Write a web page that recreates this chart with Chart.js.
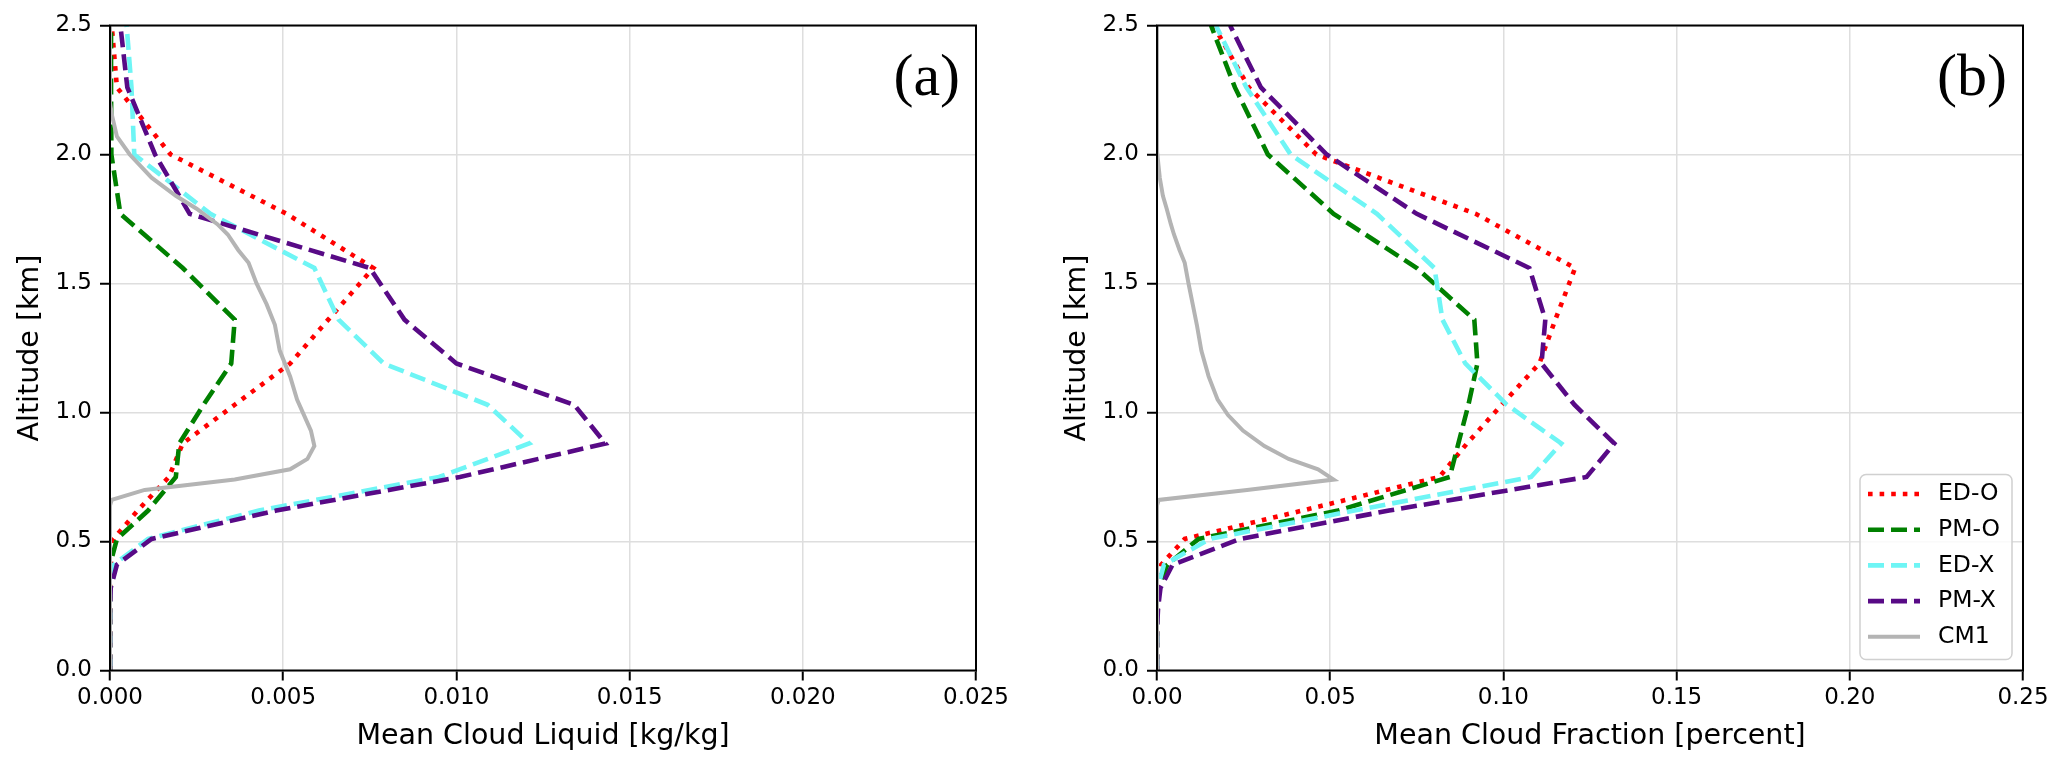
<!DOCTYPE html>
<html>
<head>
<meta charset="utf-8">
<script src="https://cdn.jsdelivr.net/npm/chart.js@4.4.1/dist/chart.umd.min.js"></script>
<style>
  html, body { margin: 0; padding: 0; background: #fff; overflow: hidden; }
  body { width: 2067px; height: 768px; position: relative; }
  .panel { position: absolute; top: 0; width: 1027px; height: 768px; }
  #p1 { left: -7px; }
  #p2 { left: 1040px; }
</style>
</head>
<body>
<div class="panel" id="p1"><canvas id="liquidChart" width="1027" height="768"></canvas></div>
<div class="panel" id="p2"><canvas id="fractionChart" width="1027" height="768"></canvas></div>
<script>
// model levels (km) shared by the four WRF runs
const levels = [0, 0.08, 0.16, 0.24, 0.32, 0.41, 0.51, 0.62, 0.75, 0.88, 1.03, 1.19, 1.36, 1.56, 1.77, 2.0, 2.26, 2.5];

// (a) mean cloud liquid [kg/kg]
const liquidEDO = [0, 0, 0, 0, 0, 0.00003, 0.0001, 0.0008, 0.0017, 0.0021, 0.0036, 0.0052, 0.0063, 0.0076, 0.0051, 0.00175, 0.0002, 0.00005];
const liquidPMO = [0, 0, 0, 0, 0, 0, 0.0002, 0.0011, 0.0019, 0.0020, 0.0027, 0.0035, 0.0036, 0.0021, 0.0003, 0.00004, 0.00003, 0.00003];
const liquidEDX = [0, 0, 0, 0, 0, 0.0001, 0.0011, 0.0043, 0.0095, 0.0121, 0.0109, 0.0079, 0.0066, 0.0059, 0.0029, 0.0007, 0.00062, 0.00048];
const liquidPMX = [0, 0, 0, 0, 0.00002, 0.0002, 0.0012, 0.0048, 0.0101, 0.0143, 0.0134, 0.0100, 0.0085, 0.0075, 0.0023, 0.0013, 0.0005, 0.0003];

// (b) mean cloud fraction
const fractionEDO = [0, 0, 0, 0, 0.0001, 0.0012, 0.008, 0.042, 0.0815, 0.0895, 0.0995, 0.1104, 0.115, 0.1207, 0.092, 0.046, 0.0265, 0.0163];
const fractionPMO = [0, 0, 0, 0, 0.0003, 0.003, 0.012, 0.0523, 0.0845, 0.087, 0.0899, 0.0925, 0.0916, 0.075, 0.051, 0.032, 0.0225, 0.0156];
const fractionEDX = [0, 0, 0, 0, 0.0002, 0.002, 0.0153, 0.057, 0.108, 0.1167, 0.101, 0.089, 0.0824, 0.0801, 0.0635, 0.0386, 0.0258, 0.0170];
const fractionPMX = [0, 0, 0, 0.0003, 0.001, 0.0045, 0.024, 0.067, 0.124, 0.132, 0.1205, 0.111, 0.1121, 0.1075, 0.075, 0.049, 0.030, 0.0211];

// CM1 reference profile (finer grid)
const cm1Heights = [0, 0.64, 0.661, 0.70, 0.74, 0.78, 0.82, 0.87, 0.93, 0.99, 1.05, 1.14, 1.24, 1.34, 1.42, 1.50, 1.58, 1.63, 1.69, 1.73, 1.79, 1.84, 1.91, 2.0, 2.07, 2.15, 2.2, 2.5];
const liquidCM1 = [0, 0, 0.00005, 0.0010, 0.0036, 0.0052, 0.0057, 0.0059, 0.0058, 0.0056, 0.0054, 0.0052, 0.0049, 0.00476, 0.00452, 0.00423, 0.0040, 0.0037, 0.0034, 0.0031, 0.0025, 0.0019, 0.0012, 0.00057, 0.0002, 0.00006, 0, 0];
const fractionCM1 = [0, 0, 0.0005, 0.026, 0.051, 0.0465, 0.038, 0.031, 0.0248, 0.0205, 0.0175, 0.0149, 0.0128, 0.0115, 0.0103, 0.0091, 0.0080, 0.0065, 0.0049, 0.0040, 0.0028, 0.0017, 0.0008, 0.0001, 0, 0, 0, 0];

// tick values
const altitudeTicks = [0, 0.5, 1.0, 1.5, 2.0, 2.5];
const liquidTicks = [0, 0.005, 0.010, 0.015, 0.020, 0.025];
const fractionTicks = [0, 0.05, 0.10, 0.15, 0.20, 0.25];

const seriesNames = ["ED-O", "PM-O", "ED-X", "PM-X", "CM1"];
const seriesColors = ["#ff0000", "#008000", "#6ef5f5", "#580a86", "#b4b4b4"];
const seriesDash = [[4.6, 7], [16, 7], [16, 7], [16, 7], []];
const seriesWidth = [4.6, 4.6, 4.6, 4.6, 4];

const FONT = "'DejaVu Sans', sans-serif";

function profile(values, heights) {
    return values.map((v, i) => ({ x: v, y: heights[i] }));
}

function buildDatasets(series) {
    return series.map((points, i) => ({
        label: seriesNames[i],
        data: points,
        showLine: true,
        borderColor: seriesColors[i],
        backgroundColor: seriesColors[i],
        borderDash: seriesDash[i],
        borderWidth: seriesWidth[i],
        borderCapStyle: "butt",
        pointRadius: 0,
        tension: 0,
        order: series.length - 1 - i,
    }));
}

// black box around the plot area, like matplotlib spines
const framePlugin = {
    id: "frame",
    afterDatasetsDraw(chart) {
        const { ctx, chartArea: a } = chart;
        ctx.save();
        ctx.strokeStyle = "#000";
        ctx.lineWidth = 2;
        ctx.setLineDash([]);
        ctx.strokeRect(a.left, a.top, a.right - a.left, a.bottom - a.top);
        ctx.restore();
    }
};

const panelLabelPlugin = {
    id: "panelLabel",
    afterDraw(chart, args, opts) {
        const { ctx, chartArea: a } = chart;
        ctx.save();
        ctx.font = "60px 'Liberation Serif', serif";
        ctx.fillStyle = "#000";
        ctx.textAlign = "right";
        ctx.textBaseline = "alphabetic";
        ctx.fillText(opts.text, a.right - 16, a.top + 69);
        ctx.restore();
    }
};

const boxLegendPlugin = {
    id: "boxLegend",
    afterDraw(chart, args, opts) {
        if (!opts.show) return;
        const { ctx, chartArea: a } = chart;
        const w = 152, h = 185;
        const left = a.right - 163, top = a.bottom - 196;
        ctx.save();
        ctx.beginPath();
        ctx.roundRect(left, top, w, h, 6);
        ctx.fillStyle = "rgba(255,255,255,0.85)";
        ctx.fill();
        ctx.strokeStyle = "#d0d0d0";
        ctx.lineWidth = 1.5;
        ctx.stroke();
        ctx.font = "23.5px " + FONT;
        ctx.textBaseline = "middle";
        ctx.textAlign = "left";
        seriesNames.forEach((name, i) => {
            const y = top + 19.5 + i * 35.7;
            ctx.beginPath();
            ctx.setLineDash(seriesDash[i]);
            ctx.strokeStyle = seriesColors[i];
            ctx.lineWidth = seriesWidth[i];
            ctx.lineCap = "butt";
            ctx.moveTo(left + 8, y);
            ctx.lineTo(left + 60, y);
            ctx.stroke();
            ctx.setLineDash([]);
            ctx.fillStyle = "#000";
            ctx.fillText(name, left + 78, y);
        });
        ctx.restore();
    }
};

function renderProfileChart(canvasId, series, xTicks, xDecimals, xTitle, label, showLegend) {
    const ctx = document.getElementById(canvasId);
    if (!ctx) return;
    new Chart(ctx, {
        type: "scatter",
        data: { datasets: buildDatasets(series) },
        options: {
            responsive: false,
            animation: false,
            devicePixelRatio: 1,
            layout: { padding: { top: 25.5, right: 44, bottom: 0, left: 0 } },
            plugins: {
                legend: { display: false },
                tooltip: { enabled: false },
                panelLabel: { text: label },
                boxLegend: { show: showLegend },
            },
            scales: {
                x: {
                    type: "linear",
                    min: xTicks[0],
                    max: xTicks[xTicks.length - 1],
                    afterFit: s => { s.height = 97.5; },
                    afterBuildTicks: s => { s.ticks = xTicks.map(v => ({ value: v })); },
                    ticks: {
                        callback: v => Number(v).toFixed(xDecimals),
                        font: { family: FONT, size: 23 },
                        color: "#000",
                        padding: 4,
                        maxRotation: 0,
                        autoSkip: false,
                    },
                    grid: { color: "#dedede", lineWidth: 1.5, tickLength: 10, tickColor: "#000", tickWidth: 2 },
                    border: { display: false },
                    title: {
                        display: true,
                        text: xTitle,
                        color: "#000",
                        font: { family: FONT, size: 28.5 },
                        padding: { top: 0, bottom: 14 },
                    },
                },
                y: {
                    type: "linear",
                    min: altitudeTicks[0],
                    max: altitudeTicks[altitudeTicks.length - 1],
                    afterFit: s => { s.width = 117; },
                    afterBuildTicks: s => { s.ticks = altitudeTicks.map(v => ({ value: v })); },
                    ticks: {
                        callback: v => Number(v).toFixed(1),
                        font: { family: FONT, size: 23 },
                        color: "#000",
                        padding: 8,
                        autoSkip: false,
                    },
                    grid: { color: "#dedede", lineWidth: 1.5, tickLength: 10, tickColor: "#000", tickWidth: 2 },
                    border: { display: false },
                    title: {
                        display: true,
                        text: "Altitude [km]",
                        color: "#000",
                        font: { family: FONT, size: 28.5 },
                        padding: { top: 20, bottom: 0 },
                    },
                },
            },
        },
        plugins: [framePlugin, panelLabelPlugin, boxLegendPlugin],
    });
}

renderProfileChart("liquidChart", [
    profile(liquidEDO, levels),
    profile(liquidPMO, levels),
    profile(liquidEDX, levels),
    profile(liquidPMX, levels),
    profile(liquidCM1, cm1Heights),
], liquidTicks, 3, "Mean Cloud Liquid [kg/kg]", "(a)", false);

renderProfileChart("fractionChart", [
    profile(fractionEDO, levels),
    profile(fractionPMO, levels),
    profile(fractionEDX, levels),
    profile(fractionPMX, levels),
    profile(fractionCM1, cm1Heights),
], fractionTicks, 2, "Mean Cloud Fraction [percent]", "(b)", true);
</script>
</body>
</html>
